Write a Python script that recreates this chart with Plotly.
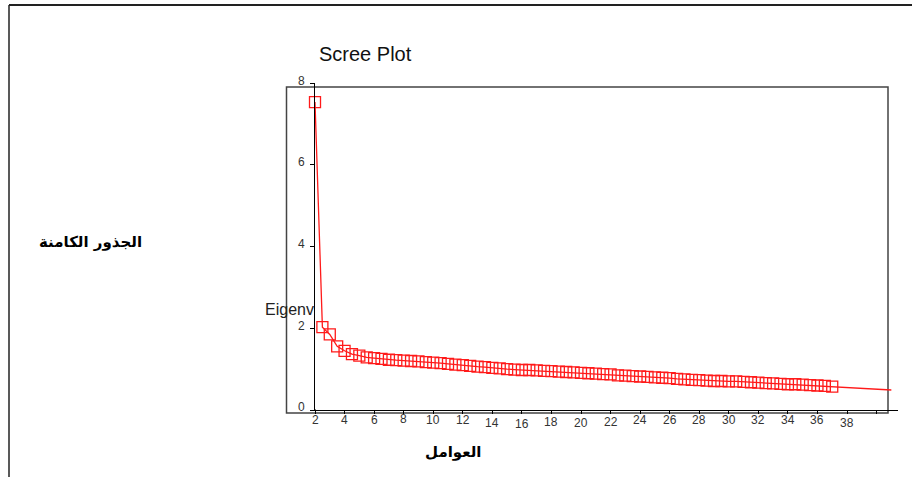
import plotly.graph_objects as go

# Eigenvalues of the extracted factors (in order)
eigenvalues = [
    7.54, 2.03, 1.85, 1.56, 1.45, 1.37, 1.33, 1.29, 1.27, 1.25,
    1.23, 1.22, 1.21, 1.20, 1.19, 1.17, 1.16, 1.15, 1.13, 1.11,
    1.10, 1.08, 1.06, 1.05, 1.03, 1.02, 1.00, 0.99, 0.98, 0.98,
    0.97, 0.96, 0.95, 0.94, 0.93, 0.92, 0.91, 0.90, 0.89, 0.88,
    0.87, 0.85, 0.84, 0.83, 0.82, 0.81, 0.80, 0.79, 0.78, 0.76,
    0.75, 0.74, 0.73, 0.72, 0.71, 0.71, 0.70, 0.70, 0.69, 0.68,
    0.67, 0.66, 0.65, 0.64, 0.63, 0.63, 0.62, 0.61, 0.60, 0.59,
    0.57, 0.56, 0.55, 0.54, 0.53, 0.52, 0.51, 0.50, 0.49,
]
n_marked = 71  # factors drawn with a square marker

x_tick_vals = [2, 4, 6, 8, 10, 12, 14, 16, 18, 20, 22, 24, 26, 28, 30, 32, 34, 36, 38, 40]
x_tick_text = ["2", "4", "6", "8", "10", "12", "14", "16", "18", "20",
               "22", "24", "26", "28", "30", "32", "34", "36", "38", ""]
y_tick_vals = [0, 2, 4, 6, 8]

title_text = "Scree Plot"
y_axis_text = "Eigenv"
y_label_ar = "الجذور الكامنة"
x_label_ar = "العوامل"

# extra downward drop (px) for some x tick labels
label_drop = {8: -1, 14: 3, 16: 4, 18: 2, 20: 3, 22: 2, 38: 3}

W, H = 912, 477
factor_pos = [2 + 0.5 * i for i in range(len(eigenvalues))]

fig = go.Figure()
fig.add_trace(go.Scatter(
    x=factor_pos, y=eigenvalues, mode="lines",
    line=dict(color="#ff1a1a", width=1.3),
    hoverinfo="skip", cliponaxis=False,
))
fig.add_trace(go.Scatter(
    x=factor_pos[:n_marked], y=eigenvalues[:n_marked], mode="markers",
    marker=dict(symbol="square-open", size=11, color="#ff1a1a",
                line=dict(color="#ff1a1a", width=1.3)),
    cliponaxis=False,
))

tick_font = dict(family="Liberation Sans, Arial, sans-serif", size=12, color="#333333")

annotations = []
for v, t in zip(x_tick_vals, x_tick_text):
    if not t:
        continue
    annotations.append(dict(
        x=v, y=(H - 420 - label_drop.get(v, 0)) / H, xref="x", yref="paper",
        text=t, showarrow=False, font=tick_font,
        xanchor="center", yanchor="middle",
    ))

annotations += [
    dict(x=317 / W, y=(H - 54) / H, xref="paper", yref="paper",
         text=title_text, showarrow=False, xanchor="left", yanchor="middle",
         font=dict(family="Liberation Sans, Arial, sans-serif", size=20, color="#111111")),
    dict(x=316 / W, y=(H - 309) / H, xref="paper", yref="paper",
         text=y_axis_text, showarrow=False, xanchor="right", yanchor="middle",
         font=dict(family="Liberation Sans, Arial, sans-serif", size=16, color="#222222")),
    dict(x=90 / W, y=(H - 242) / H, xref="paper", yref="paper",
         text="<b>" + y_label_ar + "</b>", showarrow=False,
         xanchor="center", yanchor="middle",
         font=dict(family="DejaVu Sans", size=15, color="#000000")),
    dict(x=453 / W, y=(H - 452) / H, xref="paper", yref="paper",
         text="<b>" + x_label_ar + "</b>", showarrow=False,
         xanchor="center", yanchor="middle",
         font=dict(family="DejaVu Sans", size=15, color="#000000")),
]

shapes = [
    # page frame
    dict(type="line", xref="paper", yref="paper", x0=9 / W, x1=1, y0=(H - 5) / H, y1=(H - 5) / H,
         line=dict(color="#222222", width=2)),
    dict(type="line", xref="paper", yref="paper", x0=9 / W, x1=9 / W, y0=0, y1=(H - 5) / H,
         line=dict(color="#222222", width=1.5)),
    # chart frame
    dict(type="rect", xref="paper", yref="paper", x0=286.5 / W, x1=888 / W,
         y0=(H - 413) / H, y1=(H - 87) / H, line=dict(color="#444444", width=1.5),
         layer="below"),
    # y-axis line extension down to the frame
    dict(type="line", xref="x", yref="paper", x0=2, x1=2, y0=(H - 413) / H, y1=(H - 409) / H,
         line=dict(color="#000000", width=1)),
]

fig.update_layout(
    width=W, height=H,
    margin=dict(l=0, r=0, t=0, b=0, pad=0),
    paper_bgcolor="white", plot_bgcolor="rgba(0,0,0,0)",
    showlegend=False,
    annotations=annotations,
    shapes=shapes,
    xaxis=dict(
        domain=[315 / W, 898 / W], range=[2, 41.45],
        automargin=False,
        showgrid=False, zeroline=False,
        showline=True, linecolor="#000000", linewidth=1,
        ticks="outside", ticklen=3, tickcolor="#000000",
        tickvals=x_tick_vals, showticklabels=False,
    ),
    yaxis=dict(
        domain=[(H - 410) / H, (H - 83.3) / H], range=[0, 8],
        automargin=False,
        showgrid=False, zeroline=False,
        showline=True, linecolor="#000000", linewidth=1,
        ticks="outside", ticklen=4, tickcolor="#000000",
        tickvals=y_tick_vals, tickfont=tick_font,
        ticklabelshift=-3, ticklabelstandoff=3,
    ),
)

fig.write_html("out.html", config={"displayModeBar": False})
